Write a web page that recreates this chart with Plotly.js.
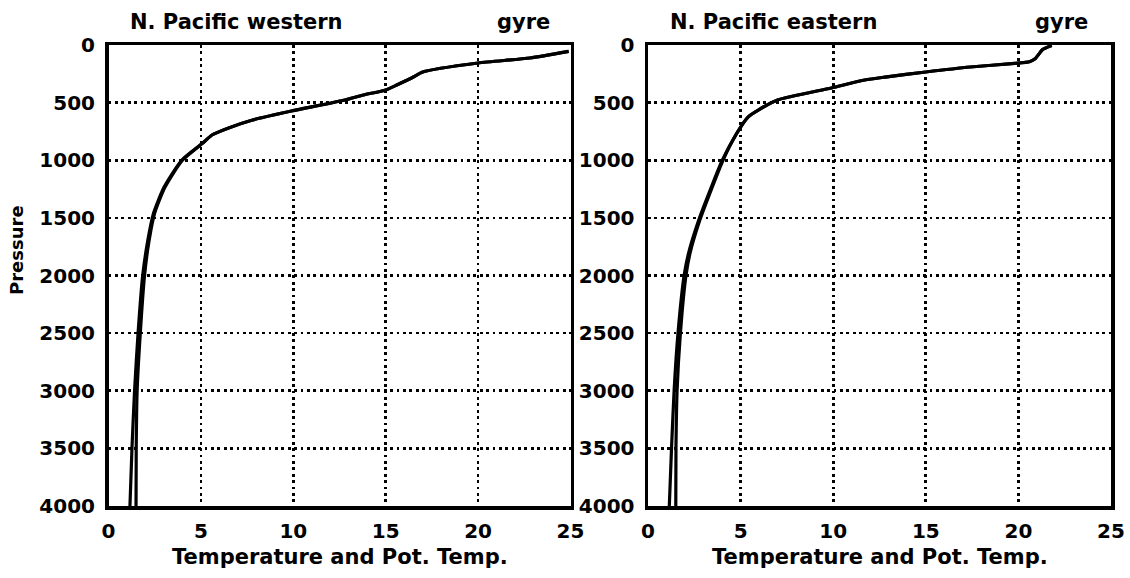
<!DOCTYPE html>
<html><head><meta charset="utf-8">
<script src="https://cdn.plot.ly/plotly-3.0.1.min.js"></script>
<style>body{margin:0;background:#fff}#plot{width:1130px;height:578px}</style>
</head><body><div id="plot"></div>
<script>
// Western gyre
const westP     = [55, 113, 156, 234, 278, 347, 390, 434, 477, 573, 651, 720, 781, 851, 1000, 1233, 1458, 1693, 2000, 2500, 3000, 3500, 4000];
const westTemp  = [24.9, 22.8, 20.0, 17.0, 16.5, 15.6, 15.0, 13.8, 12.8, 9.9, 7.8, 6.5, 5.6, 5.1, 4.0, 3.06, 2.5, 2.2, 1.95, 1.72, 1.55, 1.5, 1.49];
const westPTemp = [24.9, 22.8, 20.0, 17.0, 16.5, 15.6, 15.0, 13.8, 12.8, 9.9, 7.8, 6.5, 5.6, 5.1, 3.96, 3.01, 2.44, 2.13, 1.85, 1.6, 1.41, 1.27, 1.16];
// Eastern gyre
const eastP     = [5, 40, 80, 120, 145, 160, 191, 234, 278, 304, 373, 477, 560, 625, 764, 1000, 1233, 1519, 1806, 2000, 2500, 3000, 3500, 4000];
const eastTemp  = [21.8, 21.3, 21.1, 20.9, 20.6, 19.8, 17.4, 15.0, 12.8, 11.7, 9.9, 7.0, 6.0, 5.4, 4.8, 4.05, 3.47, 2.8, 2.27, 2.05, 1.75, 1.57, 1.51, 1.5];
const eastPTemp = [21.8, 21.3, 21.1, 20.9, 20.6, 19.8, 17.4, 15.0, 12.8, 11.7, 9.9, 7.0, 6.0, 5.4, 4.8, 4.01, 3.42, 2.74, 2.19, 1.95, 1.62, 1.41, 1.27, 1.15];

const titles = [["N. Pacific western", "gyre"], ["N. Pacific eastern", "gyre"]];
const xTitle = "Temperature and Pot. Temp.";
const yTitle = "Pressure";

const FONT = "DejaVu Sans";
const line = {color: "#000", width: 3.2, shape: "spline", smoothing: 0.6};
const traces = [
  {x: westTemp, y: westP, xaxis: "x", yaxis: "y", mode: "lines", line: line},
  {x: westPTemp, y: westP, xaxis: "x", yaxis: "y", mode: "lines", line: line},
  {x: eastTemp, y: eastP, xaxis: "x2", yaxis: "y2", mode: "lines", line: line},
  {x: eastPTemp, y: eastP, xaxis: "x2", yaxis: "y2", mode: "lines", line: line}
];

const W = 1130, H = 578;
const L1 = 108.5, R1 = 570.5, L2 = 648, R2 = 1111, T = 45, B = 506;
const tickFont = {family: FONT, size: 20, color: "#000", weight: "bold"};
const gridDash = "2.8px,3.6px";
function xa(dom, anchor) {
  return {domain: dom, anchor: anchor, range: [0, 25], dtick: 5, tick0: 0,
    showline: true, mirror: true, linewidth: 3.5, linecolor: "#000",
    showgrid: true, gridcolor: "#000", gridwidth: 2.6, griddash: gridDash,
    zeroline: false, ticks: "outside", ticklen: 4, tickcolor: "rgba(0,0,0,0)",
    tickfont: tickFont, fixedrange: true};
}
function ya(anchor) {
  return {domain: [(H - B) / H, (H - T) / H], anchor: anchor, range: [4000, 0], dtick: 500, tick0: 0,
    showline: true, mirror: true, linewidth: 3.5, linecolor: "#000",
    showgrid: true, gridcolor: "#000", gridwidth: 2.6, griddash: gridDash,
    zeroline: false, ticks: "outside", ticklen: 6, tickcolor: "rgba(0,0,0,0)",
    tickfont: tickFont, fixedrange: true};
}
const annFont = {family: FONT, size: 21, color: "#000", weight: "bold"};
function ann(text, px, py, xanchor, extra) {
  return Object.assign({text: text, x: px / W, y: 1 - py / H, xref: "paper", yref: "paper",
    xanchor: xanchor, yanchor: "middle", showarrow: false, font: annFont}, extra || {});
}
const layout = {
  width: W, height: H, margin: {l: 0, r: 0, t: 0, b: 0},
  paper_bgcolor: "#fff", plot_bgcolor: "#fff", showlegend: false,
  xaxis: xa([L1 / W, R1 / W], "y"),
  yaxis: ya("x"),
  xaxis2: xa([L2 / W, R2 / W], "y2"),
  yaxis2: ya("x2"),
  annotations: [
    ann(titles[0][0], 128, 22, "left"),
    ann(titles[0][1], 552, 22, "right"),
    ann(titles[1][0], 668, 22, "left"),
    ann(titles[1][1], 1090, 22, "right"),
    ann(xTitle, (L1 + R1) / 2, 557, "center"),
    ann(xTitle, (L2 + R2) / 2, 557, "center"),
    ann(yTitle, 17, 250, "center", {textangle: -90, font: {family: FONT, size: 18, color: "#000", weight: "bold"}})
  ]
};
Plotly.newPlot("plot", traces, layout, {displayModeBar: false, staticPlot: true});
</script>
</body></html>
